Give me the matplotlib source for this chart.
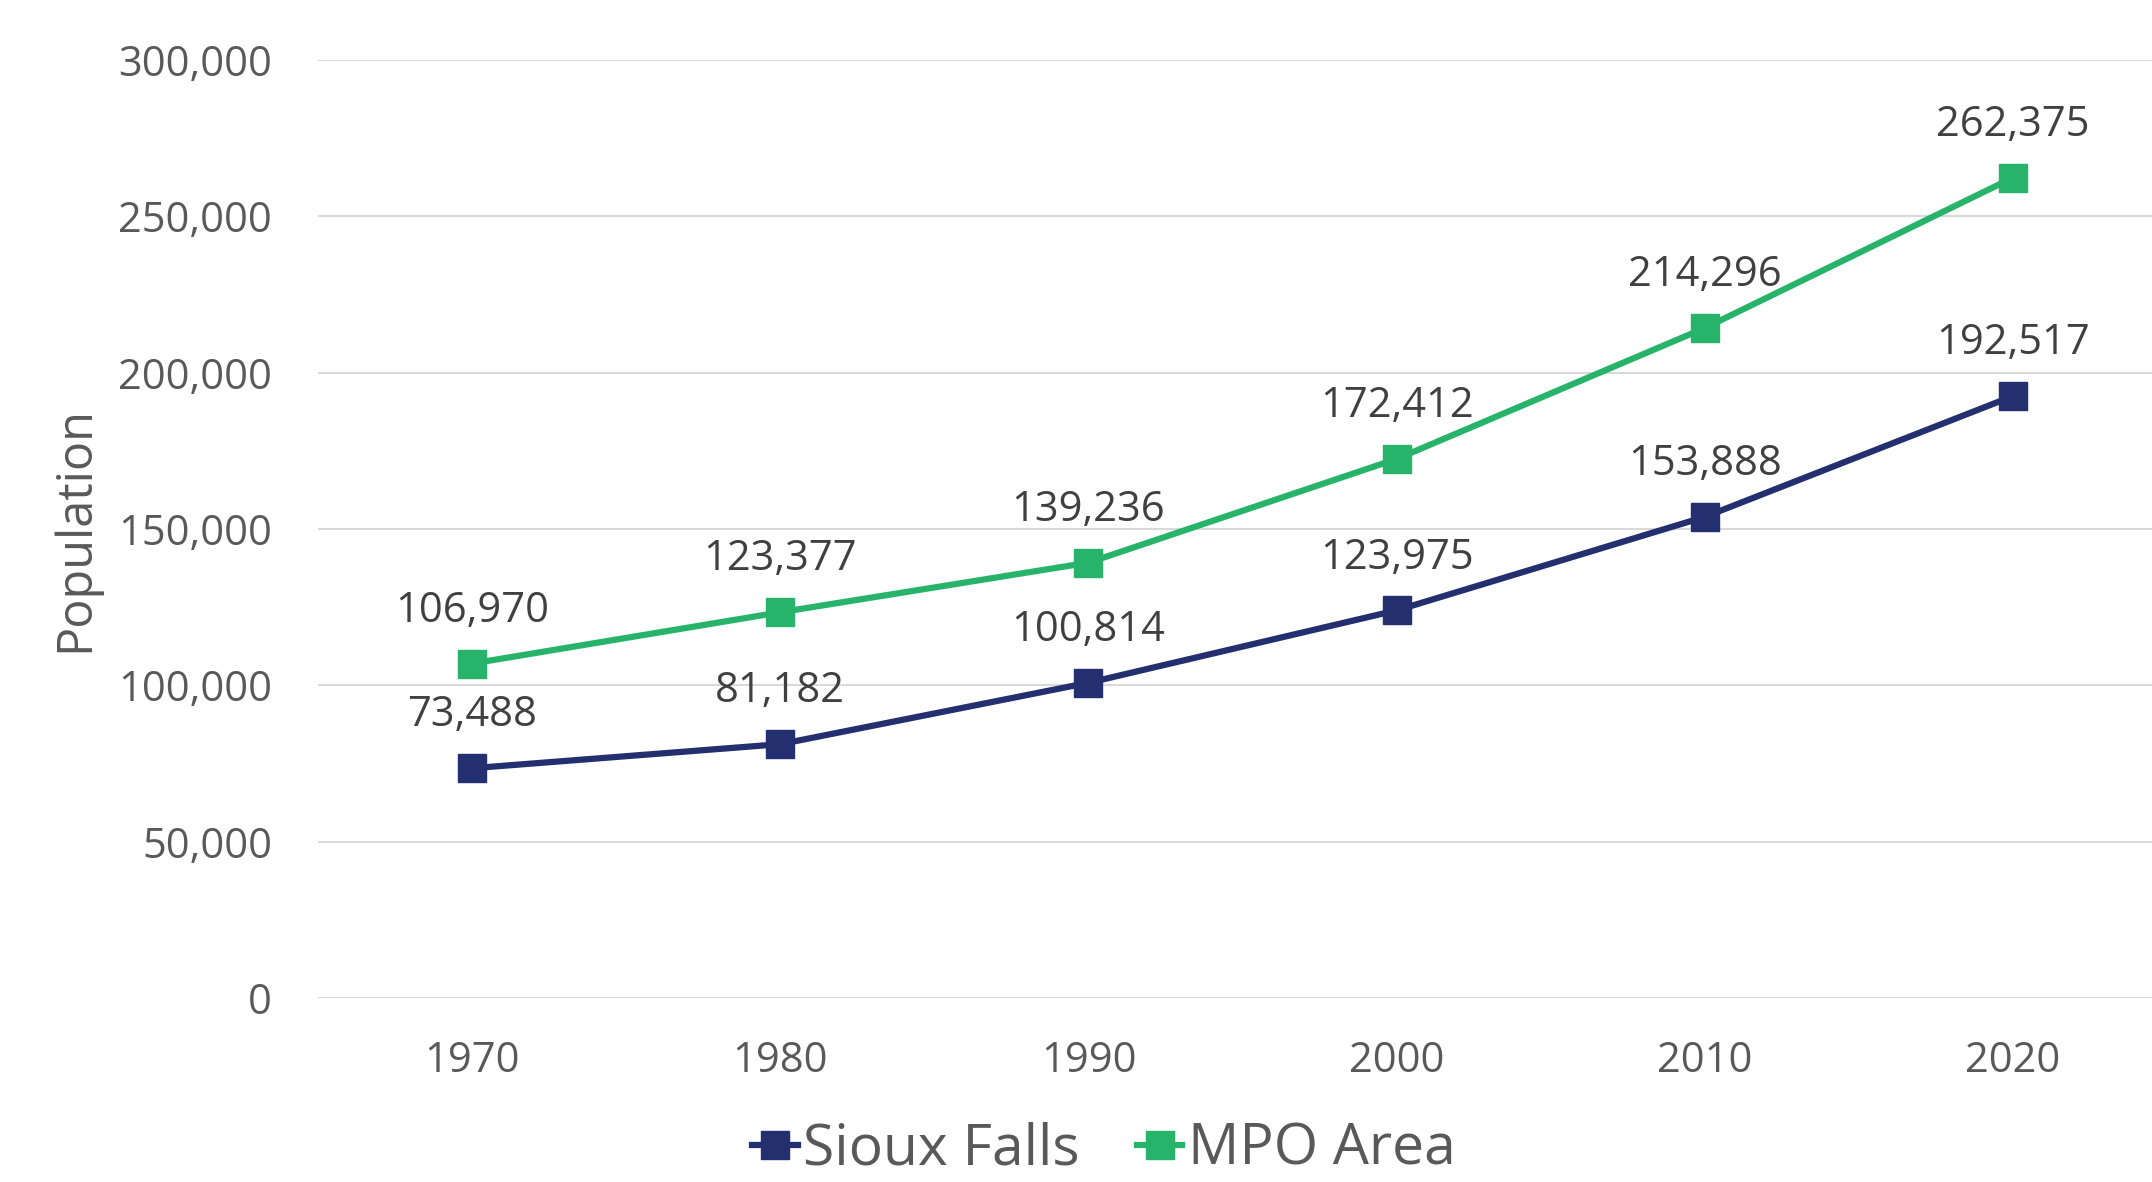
import matplotlib
matplotlib.use("Agg")
import matplotlib.pyplot as plt
from matplotlib.ticker import FuncFormatter

# data
years = ["1970", "1980", "1990", "2000", "2010", "2020"]
sioux_falls = [73488, 81182, 100814, 123975, 153888, 192517]
mpo_area = [106970, 123377, 139236, 172412, 214296, 262375]

navy = "#232F6E"
green = "#27B46A"
grey = "#595959"

plt.rcParams['font.family'] = ['Open Sans', 'DejaVu Sans']

fig = plt.figure(figsize=(21.52, 11.82), dpi=100)
ax = fig.add_axes([0.1478, 0.1557, 0.8592, 0.7935])

x = list(range(len(years)))
for vals, col, name in [(sioux_falls, navy, "Sioux Falls"), (mpo_area, green, "MPO Area")]:
    ax.plot(x, vals, color=col, lw=4.5, marker="s", markersize=20, label=name, zorder=3)
    for xi, v in zip(x, vals):
        ax.annotate(f"{v:,}", (xi, v), xytext=(0, 38), textcoords="offset points",
                    ha="center", va="center", fontsize=30, color="#404040")

ax.set_xlim(-0.5, 5.5)
ax.set_ylim(0, 300000)
ax.set_yticks(range(0, 300001, 50000))
ax.yaxis.set_major_formatter(FuncFormatter(lambda v, p: f"{int(v):,}"))
ax.set_xticks(x)
ax.set_xticklabels(years)
ax.grid(axis="y", color="#D9D9D9", lw=1.5)
ax.set_axisbelow(True)
for s in ax.spines.values():
    s.set_visible(False)
ax.tick_params(axis="both", length=0, labelsize=30, labelcolor=grey)
ax.tick_params(axis="y", pad=33)
ax.tick_params(axis="x", pad=30)

ax.set_ylabel("Population", fontsize=35, color=grey)
ax.yaxis.set_label_coords(-0.118, 0.5)

fig.legend(loc="center", bbox_to_anchor=(0.513, 0.027), ncol=2, frameon=False,
           fontsize=41, labelcolor=grey, handlelength=0.8, handletextpad=0.1,
           columnspacing=1.0, markerscale=1.0)

fig.savefig("out.png", dpi=100)
